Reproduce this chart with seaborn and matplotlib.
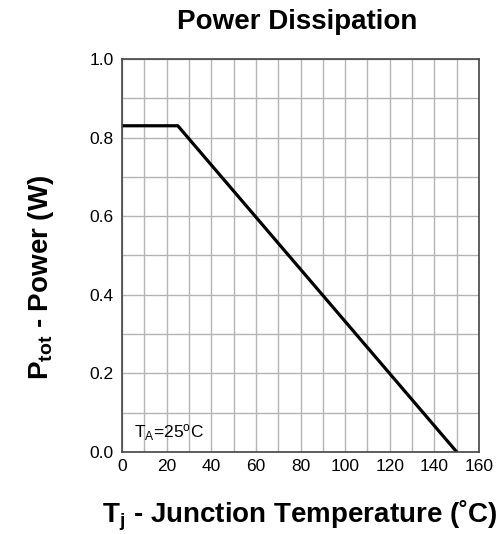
import matplotlib
matplotlib.use("Agg")
import matplotlib.pyplot as plt
import seaborn as sns
import pandas as pd
import numpy as np

# Derating curve: junction temperature (°C) vs allowed power (W)
temperature = [0, 25, 150]
power = [0.83, 0.83, 0.0]

x_ticks = [0, 20, 40, 60, 80, 100, 120, 140, 160]
y_ticks = [0.0, 0.2, 0.4, 0.6, 0.8, 1.0]

sns.set_theme(style="white")
plt.rcParams["font.family"] = ["Liberation Sans", "DejaVu Sans"]
plt.rcParams["text.color"] = "black"
plt.rcParams["mathtext.fontset"] = "custom"
plt.rcParams["mathtext.rm"] = "Liberation Sans"
plt.rcParams["mathtext.bf"] = "Liberation Sans:bold"
plt.rcParams["mathtext.it"] = "Liberation Sans:italic"

df = pd.DataFrame({"Tj": temperature, "P": power})

fig = plt.figure(figsize=(4.98, 5.34), dpi=100)
ax = fig.add_axes([0.245, 0.1536, 0.717, 0.736])

sns.lineplot(data=df, x="Tj", y="P", ax=ax, color="black", linewidth=2.3)

ax.set_xlim(0, 160)
ax.set_ylim(0, 1.0)
ax.set_xticks(x_ticks)
ax.set_yticks(y_ticks)
ax.set_xticklabels([str(t) for t in x_ticks])
ax.set_yticklabels([f"{t:.1f}" for t in y_ticks])
ax.set_xticks(np.arange(0, 161, 10), minor=True)
ax.set_yticks(np.arange(0, 1.01, 0.1), minor=True)
ax.grid(which="both", color="#b4b4b4", linewidth=1.0)
ax.set_axisbelow(True)
ax.tick_params(which="both", length=0)
ax.tick_params(axis="x", labelsize=12.5, pad=5, colors="black")
ax.tick_params(axis="y", labelsize=12.5, pad=6, colors="black")
for s in ax.spines.values():
    s.set_color("#444444")
    s.set_linewidth(1.2)

ax.set_xlabel("")
ax.set_ylabel("")

fig.text(0.597, 0.945, "Power Dissipation", ha="center", va="baseline",
         fontsize=20, fontweight="bold", color="black")
fig.text(0.602, 0.021, r"$\mathbf{T}_{\mathbf{j}}$ - Junction Temperature (˚C)",
         ha="center", va="baseline", fontsize=20, fontweight="bold", color="black")
fig.text(0.0964, 0.481, r"$\mathbf{P}_{\mathbf{tot}}$ - Power (W)",
         ha="center", va="baseline", rotation=90, rotation_mode="anchor",
         fontsize=20, fontweight="bold", color="black")

ax.text(5.4, 0.036, r"T$_{\rm A}$=25$^{\rm o}$C", fontsize=12.5, ha="left",
        va="baseline", color="black")

fig.savefig("out.png", dpi=100)
